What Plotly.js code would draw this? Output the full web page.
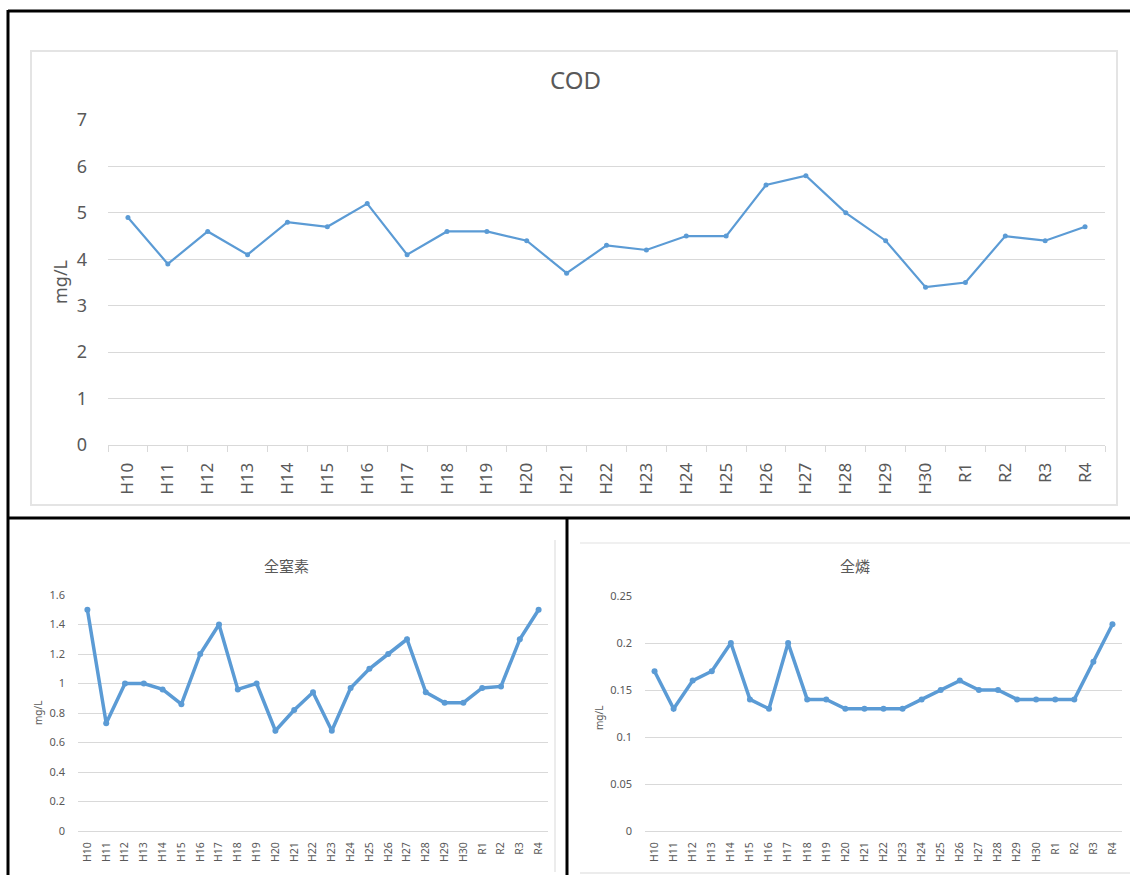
<!DOCTYPE html>
<html>
<head>
<meta charset="utf-8">
<script src="https://cdn.plot.ly/plotly-3.0.1.min.js"></script>
<style>html,body{margin:0;padding:0;background:#fff;}#chart{width:1130px;height:875px;}</style>
</head>
<body>
<div id="chart"></div>
<script>
// ---- data ----
const years = ["H10","H11","H12","H13","H14","H15","H16","H17","H18","H19","H20","H21","H22","H23","H24","H25","H26","H27","H28","H29","H30","R1","R2","R3","R4"];
const codValues = [4.9,3.9,4.6,4.1,4.8,4.7,5.2,4.1,4.6,4.6,4.4,3.7,4.3,4.2,4.5,4.5,5.6,5.8,5.0,4.4,3.4,3.5,4.5,4.4,4.7];
const nitrogenValues = [1.5,0.73,1.0,1.0,0.96,0.86,1.2,1.4,0.96,1.0,0.68,0.82,0.94,0.68,0.97,1.1,1.2,1.3,0.94,0.87,0.87,0.97,0.98,1.3,1.5];
const phosphorusValues = [0.17,0.13,0.16,0.17,0.2,0.14,0.13,0.2,0.14,0.14,0.13,0.13,0.13,0.13,0.14,0.15,0.16,0.15,0.15,0.14,0.14,0.14,0.14,0.18,0.22];
const titles = ["COD","全窒素","全燐"];
const unitLabel = "mg/L";

// ---- layout helpers ----
const W = 1130, H = 875;
const px = x => x / W;
const py = y => 1 - y / H;
const BLUE = "#5b9bd5";
const GRAY = "#595959";
const GRID = "#d9d9d9";
const FONT = "Noto Sans, DejaVu Sans, sans-serif";
const CJK = "Noto Sans CJK JP, Noto Sans, sans-serif";

const traces = [
  {x: years, y: codValues, type: "scatter", mode: "lines+markers", xaxis: "x", yaxis: "y",
   line: {color: BLUE, width: 2.2}, marker: {color: BLUE, size: 5}, hoverinfo: "x+y"},
  {x: years, y: nitrogenValues, type: "scatter", mode: "lines+markers", xaxis: "x2", yaxis: "y2",
   line: {color: BLUE, width: 3.5}, marker: {color: BLUE, size: 6}, hoverinfo: "x+y"},
  {x: years, y: phosphorusValues, type: "scatter", mode: "lines+markers", xaxis: "x3", yaxis: "y3",
   line: {color: BLUE, width: 3.5}, marker: {color: BLUE, size: 6}, hoverinfo: "x+y"}
];

function catAxis(domain, anchor, size, tickson, standoff) {
  return {
    domain: domain, anchor: anchor, type: "category", range: [-0.5, years.length - 0.5],
    tickangle: -90, tickfont: {family: FONT, size: size, color: GRAY},
    showgrid: false, zeroline: false, showline: true, linecolor: GRID, linewidth: 1,
    ticks: tickson ? "outside" : "", tickson: tickson ? "boundaries" : undefined,
    ticklen: 6, tickcolor: GRID, ticklabelstandoff: standoff, fixedrange: true
  };
}
function valAxis(domain, anchor, range, dtick, size, standoff) {
  return {
    domain: domain, anchor: anchor, range: range, dtick: dtick, tick0: 0,
    tickfont: {family: FONT, size: size, color: GRAY},
    showgrid: true, gridcolor: GRID, gridwidth: 1, zeroline: false,
    showline: false, ticks: "", ticklabelstandoff: standoff, fixedrange: true
  };
}
function note(text, x, y, size, family, angle) {
  return {text: text, x: px(x), y: py(y), xref: "paper", yref: "paper", showarrow: false,
    xanchor: "center", yanchor: "middle", textangle: angle || 0,
    font: {family: family, size: size, color: GRAY}};
}

const layout = {
  width: W, height: H, margin: {l: 0, r: 0, t: 0, b: 0},
  paper_bgcolor: "#ffffff", plot_bgcolor: "rgba(0,0,0,0)", showlegend: false,
  xaxis: catAxis([px(108), px(1105)], "y", 17, true, 10),
  yaxis: valAxis([py(445), py(120)], "x", [0, 7], 1, 18, 20),
  xaxis2: catAxis([px(78), px(548)], "y2", 10.5, false, 6),
  yaxis2: valAxis([py(831), py(595)], "x2", [0, 1.6], 0.2, 11, 12),
  xaxis3: catAxis([px(645), px(1122)], "y3", 10.5, false, 6),
  yaxis3: valAxis([py(831), py(596)], "x3", [0, 0.25], 0.05, 11, 12),
  annotations: [
    note(titles[0], 575, 80, 24, FONT),
    note(titles[1], 286, 565, 15, CJK),
    note(titles[2], 855, 565, 15, CJK),
    note(unitLabel, 60, 282, 18, FONT, -90),
    note(unitLabel, 38, 713, 10, FONT, -90),
    note(unitLabel, 599, 718, 10, FONT, -90)
  ],
  shapes: [
    // light chart frames
    {type: "rect", xref: "paper", yref: "paper", x0: px(31), x1: px(1117), y0: py(505), y1: py(51),
     line: {color: "#e4e4e4", width: 2}},
    {type: "line", xref: "paper", yref: "paper", x0: px(555), x1: px(555), y0: py(540), y1: py(872),
     line: {color: "#ececec", width: 2}},
    {type: "line", xref: "paper", yref: "paper", x0: px(580), x1: px(1130), y0: py(543), y1: py(543),
     line: {color: "#f0f0f0", width: 2}},
    {type: "line", xref: "paper", yref: "paper", x0: px(580), x1: px(1130), y0: py(873), y1: py(873),
     line: {color: "#ececec", width: 2}},
    // black panel borders
    {type: "line", xref: "paper", yref: "paper", x0: px(8), x1: px(1130), y0: py(11), y1: py(11),
     line: {color: "#000", width: 3}},
    {type: "line", xref: "paper", yref: "paper", x0: px(8), x1: px(8), y0: py(10), y1: py(875),
     line: {color: "#000", width: 3}},
    {type: "line", xref: "paper", yref: "paper", x0: px(8), x1: px(1130), y0: py(518), y1: py(518),
     line: {color: "#000", width: 3}},
    {type: "line", xref: "paper", yref: "paper", x0: px(567), x1: px(567), y0: py(518), y1: py(875),
     line: {color: "#000", width: 3}}
  ]
};

Plotly.newPlot("chart", traces, layout, {displayModeBar: false, staticPlot: true});
</script>
</body>
</html>
